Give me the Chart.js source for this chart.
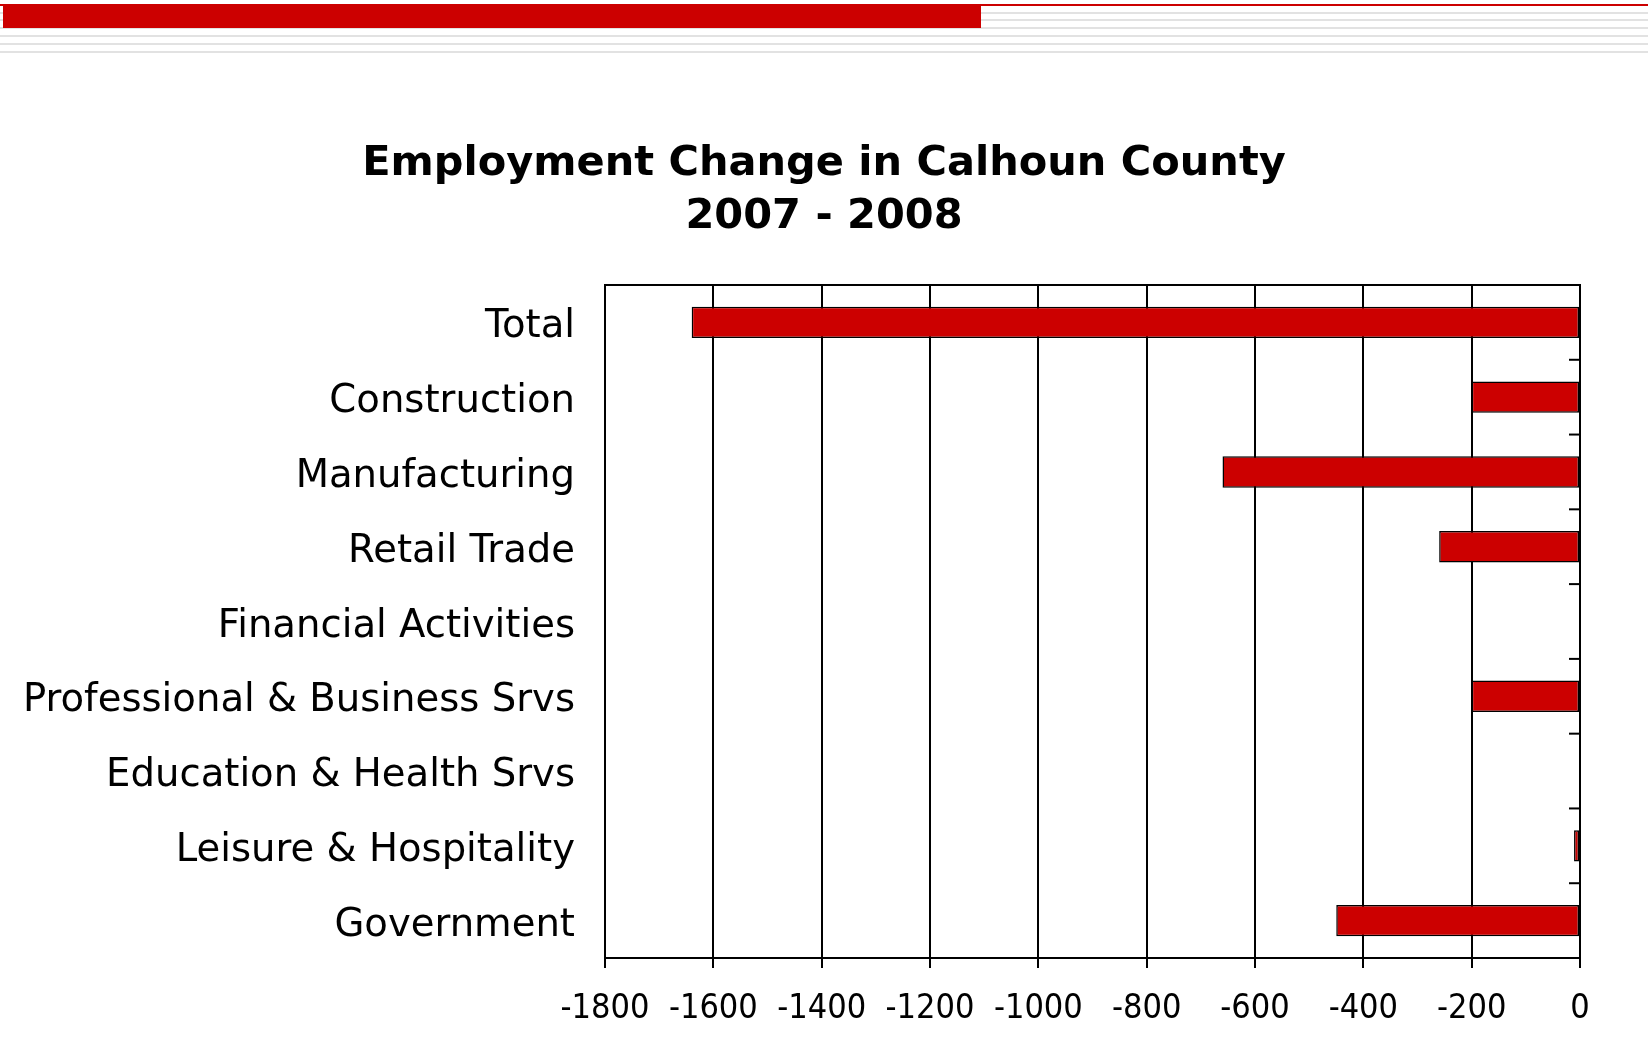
<!DOCTYPE html>
<html>

<head>
  <title>Employment Change in Calhoun County 2007 - 2008</title>
  <meta charset="UTF-8">
  <script src="https://cdn.jsdelivr.net/npm/chart.js@4.4.1/dist/chart.umd.min.js"></script>
  <style>
    body { margin: 0; background: #fff; width: 1648px; height: 1049px; overflow: hidden; position: relative; }
    .deco { position: absolute; left: 0; }
    #wrap { position: absolute; left: 0; top: 0; width: 1648px; height: 1049px; }
  </style>
</head>

<body>
  <!-- slide header stripes -->
  <div class="deco" style="top:12px;width:1648px;height:2px;background:#e2e2e2"></div>
  <div class="deco" style="top:19px;width:1648px;height:2px;background:#e2e2e2"></div>
  <div class="deco" style="top:27px;width:1648px;height:2px;background:#e2e2e2"></div>
  <div class="deco" style="top:35px;width:1648px;height:2px;background:#e2e2e2"></div>
  <div class="deco" style="top:43px;width:1648px;height:2px;background:#e2e2e2"></div>
  <div class="deco" style="top:51px;width:1648px;height:2px;background:#e2e2e2"></div>
  <div class="deco" style="top:4px;width:1648px;height:2px;background:#cc0000"></div>
  <div class="deco" style="top:4px;left:3px;width:978px;height:24px;background:#cc0000"></div>

  <div id="wrap"><canvas id="myChart" width="1648" height="1049"></canvas></div>
  <script>
    var categories = ['Total', 'Construction', 'Manufacturing', 'Retail Trade', 'Financial Activities',
      'Professional & Business Srvs', 'Education & Health Srvs', 'Leisure & Hospitality', 'Government'];
    var changes = [-1640, -200, -660, -260, 0, -200, 0, -11, -450];
    var xTicks = [-1800, -1600, -1400, -1200, -1000, -800, -600, -400, -200, 0];
    var titleLines = ['Employment Change in Calhoun County', '2007 - 2008'];

    // frame round the plot + little ticks on the zero axis between categories
    var framePlugin = {
      id: 'frame',
      afterDraw: function(chart) {
        var ctx = chart.ctx;
        var a = chart.chartArea;
        var y = chart.scales.y;
        ctx.save();
        ctx.strokeStyle = '#000';
        ctx.lineWidth = 2;
        ctx.strokeRect(a.left, a.top, a.right - a.left, a.bottom - a.top);
        for (let i = 0; i <= categories.length; i++) {
          var py;
          if (i == 0) py = a.top;
          else if (i == categories.length) py = a.bottom;
          else py = (y.getPixelForTick(i - 1) + y.getPixelForTick(i)) / 2;
          ctx.beginPath();
          ctx.moveTo(a.right - 11, py);
          ctx.lineTo(a.right, py);
          ctx.stroke();
        }
        ctx.restore();
      }
    };

    var ctx = document.getElementById("myChart").getContext("2d");
    var chart = new Chart(ctx, {
      type: "bar",
      data: {
        labels: categories,
        datasets: [{
          data: changes,
          backgroundColor: "#cc0000",
          borderColor: "#000",
          borderWidth: 1.5,
          borderSkipped: false,
          categoryPercentage: 1,
          barPercentage: 0.42
        }]
      },
      plugins: [framePlugin],
      options: {
        indexAxis: 'y',
        responsive: false,
        animation: false,
        layout: { padding: 0 },
        plugins: {
          legend: { display: false },
          tooltip: { enabled: false },
          title: {
            display: true,
            text: titleLines,
            color: '#000',
            font: { family: 'DejaVu Sans', size: 41.5, weight: 'bold', lineHeight: 1.265 },
            padding: { top: 138, bottom: 42 }
          }
        },
        scales: {
          x: {
            min: -1800,
            max: 0,
            afterBuildTicks: function(scale) {
              scale.ticks = xTicks.map(function(v) { return { value: v }; });
            },
            afterFit: function(scale) { scale.height = 91; },
            grid: { color: '#000', lineWidth: 2, drawTicks: true, tickLength: 10, tickColor: '#000' },
            border: { display: true, color: '#000', width: 2 },
            ticks: {
              color: '#000',
              padding: 21,
              maxRotation: 0,
              autoSkip: false,
              font: { family: 'DejaVu Sans Condensed', size: 34 },
              callback: function(v) { return String(v); }
            }
          },
          y: {
            afterFit: function(scale) { scale.width = 605; },
            grid: { display: false, drawTicks: false },
            border: { display: false },
            ticks: {
              color: '#000',
              padding: 30,
              labelOffset: 5,
              font: { family: 'DejaVu Sans', size: 38.6 }
            }
          },
          // empty right-hand strip so the plot ends where the reference does
          yRight: {
            type: 'category',
            position: 'right',
            afterFit: function(scale) { scale.width = 68; },
            grid: { display: false, drawTicks: false },
            border: { display: false },
            ticks: { display: false }
          }
        }
      }
    });
  </script>
</body>

</html>
